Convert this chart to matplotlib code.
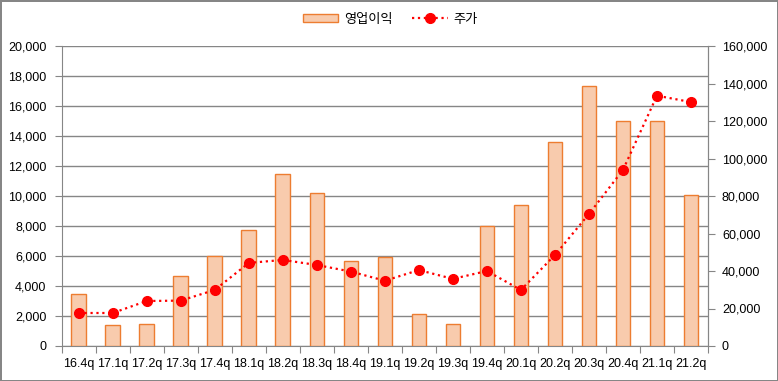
import numpy as np
import matplotlib
matplotlib.use('Agg')
import matplotlib.pyplot as plt
from matplotlib.ticker import FuncFormatter, MultipleLocator, FixedLocator

plt.rcParams['font.family'] = ['Liberation Sans', 'Noto Sans CJK KR']

# Data
quarters = ['16.4q', '17.1q', '17.2q', '17.3q', '17.4q', '18.1q', '18.2q', '18.3q', '18.4q', '19.1q',
            '19.2q', '19.3q', '19.4q', '20.1q', '20.2q', '20.3q', '20.4q', '21.1q', '21.2q']
op_profit = [3470, 1400, 1480, 4670, 6000, 7730, 11470, 10200, 5670, 5930,
             2130, 1470, 8000, 9400, 13600, 17320, 14970, 15000, 10050]
stock_price = [17600, 17600, 24000, 24200, 29900, 44300, 45900, 43200, 39700, 34800,
               40500, 35800, 40000, 29900, 48500, 70400, 93900, 133500, 130100]

grid_col = '#868686'
fmt = FuncFormatter(lambda v, p: f'{int(v):,}')

fig = plt.figure(figsize=(7.78, 3.81), dpi=100)
fig.patch.set_edgecolor(grid_col)
fig.patch.set_linewidth(2)
ax = fig.add_axes([61.7 / 778, 35 / 381, (708 - 61.7) / 778, 300 / 381])
ax2 = ax.twinx()

x = np.arange(len(quarters))
bars = ax.bar(x, op_profit, width=0.43, color='#F8CBAD', edgecolor='#ED7D31', linewidth=1, label='영업이익', zorder=3)
line, = ax2.plot(x, stock_price, color='#FF0000', linestyle=':', linewidth=1.6, marker='o', markersize=7,
                 label='주가', zorder=4)

ax.set_xlim(-0.5, len(quarters) - 0.5)
ax.set_ylim(0, 20000)
ax2.set_ylim(0, 160000)
ax.yaxis.set_major_locator(MultipleLocator(2000))
ax2.yaxis.set_major_locator(MultipleLocator(20000))
ax.yaxis.set_major_formatter(fmt)
ax2.yaxis.set_major_formatter(fmt)

ax.grid(axis='y', color=grid_col, linewidth=1, zorder=0)
ax.set_axisbelow(True)

# category boundaries as ticks, labels at centres
ax.xaxis.set_major_locator(FixedLocator(np.arange(-0.5, len(quarters), 1)))
ax.xaxis.set_major_formatter(FuncFormatter(lambda v, p: ''))
ax.xaxis.set_minor_locator(FixedLocator(x))
ax.set_xticklabels(quarters, minor=True)
ax.tick_params(axis='x', which='major', length=5, color=grid_col, direction='out')
ax.tick_params(axis='x', which='minor', length=0, pad=9, labelsize=9)
ax.tick_params(axis='y', length=5, color=grid_col, pad=6, labelsize=9)
ax2.tick_params(axis='y', length=5, color=grid_col, pad=5, labelsize=9)

for a in (ax, ax2):
    a.spines['top'].set_visible(False)
    for s in ('left', 'right', 'bottom'):
        a.spines[s].set_color(grid_col)
ax2.spines['left'].set_visible(False)
ax2.spines['bottom'].set_visible(False)

fig.legend(handles=[bars, line], labels=['영업이익', '주가'], loc='center', bbox_to_anchor=(390 / 778, 1 - 19 / 381),
           ncol=2, frameon=False, prop={'family': ['Noto Sans CJK KR'], 'size': 9.5},
           handlelength=2.7, handleheight=0.6, columnspacing=1.5, handletextpad=0.4)

fig.savefig('out.png', dpi=100)
